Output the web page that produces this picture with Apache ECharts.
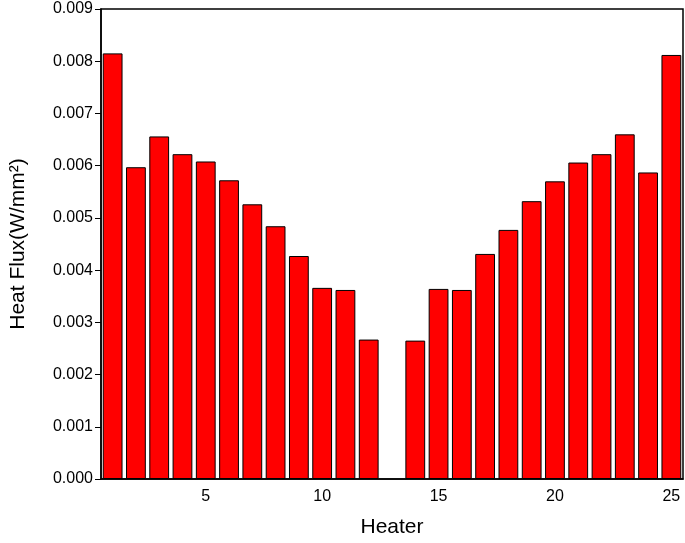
<!DOCTYPE html>
<html><head><meta charset="utf-8">
<script src="https://cdn.jsdelivr.net/npm/echarts@6/dist/echarts.min.js"></script>
<style>html,body{margin:0;padding:0;background:#fff}#c{width:685px;height:543px}</style>
</head><body><div id="c"></div>
<script>
const heaters = Array.from({length:25},(_, i)=>String(i+1));
const heatFlux = [0.00815,0.00597,0.00656,0.00622,0.00608,0.00572,0.00526,0.00484,0.00427,0.00366,0.00362,0.00267,null,0.00265,0.00364,0.00362,0.00431,0.00477,0.00532,0.00570,0.00606,0.00622,0.00660,0.00587,0.00812];
const chart = echarts.init(document.getElementById('c'));
const font = 'Arial, "Liberation Sans", sans-serif';
chart.setOption({
  animation:false,
  grid:{left:96,right:2,top:9,bottom:62,show:true,borderColor:'#000',borderWidth:1.5,backgroundColor:'transparent'},
  xAxis:{type:'category',data:heaters,boundaryGap:true,
    name:'Heater',nameLocation:'middle',nameGap:38,nameTextStyle:{fontSize:21,color:'#000',fontFamily:font},
    axisLine:{lineStyle:{color:'#000',width:1.5}},
    axisTick:{alignWithLabel:true,interval:(i)=>(i+1)%5===0,length:6,inside:false,lineStyle:{color:'#000'}},
    axisLabel:{interval:(i)=>(i+1)%5===0,fontSize:16,color:'#000',fontFamily:font,margin:10}},
  yAxis:{type:'value',min:0,max:0.009,interval:0.001,
    name:'Heat Flux(W/mm²)',nameLocation:'middle',nameGap:72,nameTextStyle:{fontSize:21,color:'#000',fontFamily:font},
    axisLine:{show:true,lineStyle:{color:'#000',width:1.5}},
    axisTick:{show:true,length:6,lineStyle:{color:'#000'}},
    splitLine:{show:false},
    axisLabel:{fontSize:16,color:'#000',fontFamily:font,formatter:v=>v.toFixed(3)}},
  series:[{type:'bar',data:heatFlux,barCategoryGap:'15%',
    itemStyle:{color:'#ff0000',borderColor:'#000',borderWidth:1}}]
});
</script></body></html>
